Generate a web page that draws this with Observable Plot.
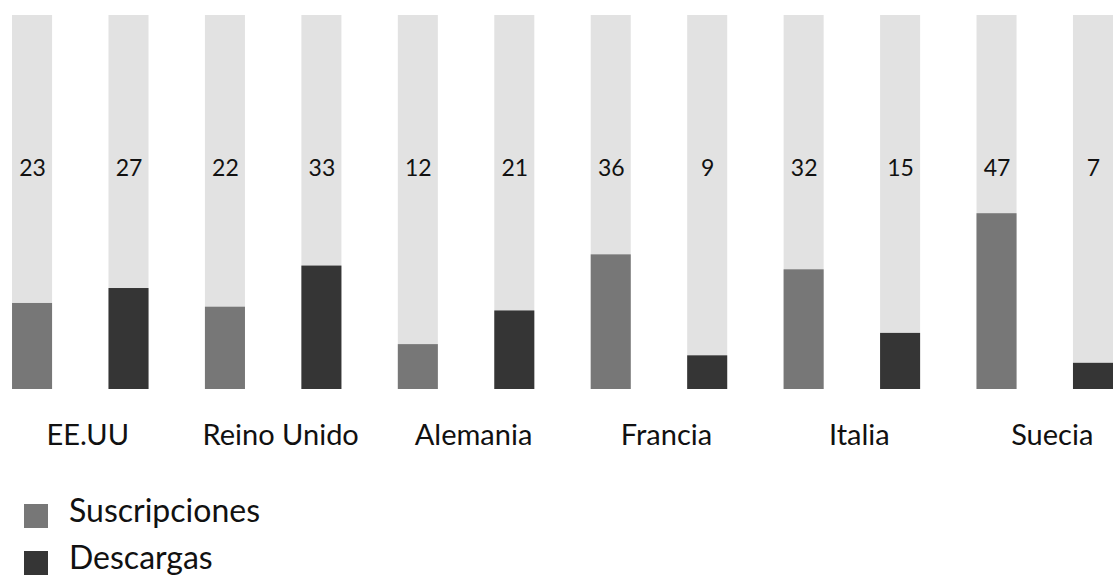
<!DOCTYPE html>
<html>
<head>
<meta charset="utf-8">
<script src="https://cdn.jsdelivr.net/npm/d3@7"></script>
<script src="https://cdn.jsdelivr.net/npm/@observablehq/plot@0.6"></script>
<style>
  html, body { margin: 0; padding: 0; background: #fff; }
  body { width: 1113px; height: 576px; overflow: hidden; font-family: Lato, "Open Sans", sans-serif; }
  #legend { padding-top: 26px; padding-left: 24px; }
  .row { display: flex; align-items: center; height: 47px; font-size: 32px; color: #111; }
  .sw { width: 24px; height: 24px; margin-right: 21px; position: relative; top: 6px; }
</style>
</head>
<body>
<div id="chart"></div>
<div id="legend"></div>
<script>
const countries = ["EE.UU", "Reino Unido", "Alemania", "Francia", "Italia", "Suecia"];
const series = ["Suscripciones", "Descargas"];
const suscripciones = [23, 22, 12, 36, 32, 47];
const descargas = [27, 33, 21, 9, 15, 7];
const maxValue = 100;
const colors = ["#777777", "#353535"];

const rows = [];
countries.forEach((c, i) => {
  rows.push({country: c, series: series[0], value: suscripciones[i]});
  rows.push({country: c, series: series[1], value: descargas[i]});
});

const chart = Plot.plot({
  width: 1113,
  height: 460,
  marginLeft: 0,
  marginRight: 0,
  marginTop: 15,
  marginBottom: 71,
  style: {fontFamily: "Lato, 'Open Sans', sans-serif", color: "#111", background: "#fff"},
  fx: {domain: countries, paddingInner: 0.2924, paddingOuter: 0.0312, align: 1, round: false, label: null},
  x: {domain: series, paddingInner: 0.585, paddingOuter: 0, round: false, axis: null},
  y: {domain: [0, maxValue], axis: null},
  color: {domain: series, range: colors},
  marks: [
    Plot.barY(rows, {fx: "country", x: "series", y1: 0, y2: () => maxValue, fill: "#e2e2e2"}),
    Plot.barY(rows, {fx: "country", x: "series", y: "value", fill: "series"}),
    Plot.text(rows, {fx: "country", x: "series", text: d => String(d.value), frameAnchor: "middle", dy: -34, fontSize: 23, fill: "#111"}),
    Plot.axisFx({anchor: "bottom", tickSize: 0, tickPadding: 35, fontSize: 29, dx: 7, label: null, fill: "#111"})
  ]
});
document.getElementById("chart").appendChild(chart);

const legend = document.getElementById("legend");
series.forEach((s, i) => {
  const row = document.createElement("div");
  row.className = "row";
  const sw = document.createElement("div");
  sw.className = "sw";
  sw.style.background = colors[i];
  const t = document.createElement("span");
  t.textContent = s;
  row.appendChild(sw);
  row.appendChild(t);
  legend.appendChild(row);
});
</script>
</body>
</html>
